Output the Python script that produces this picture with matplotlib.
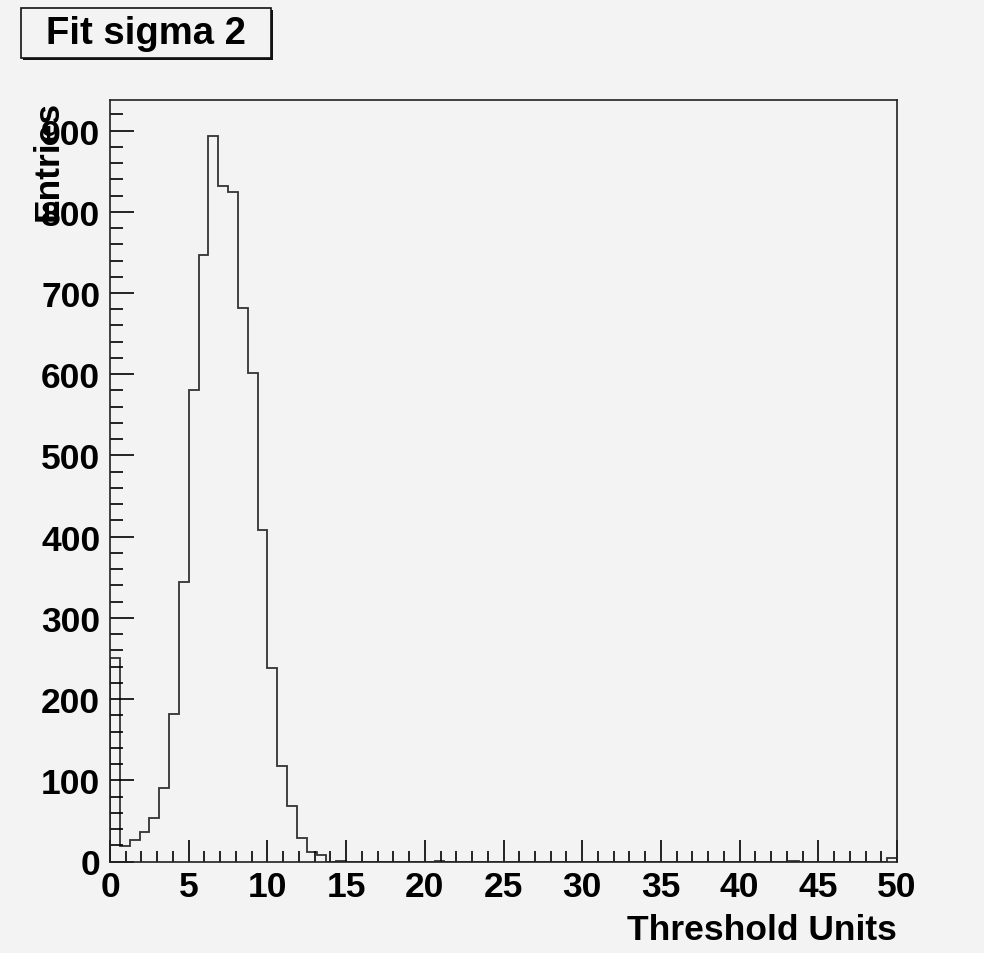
import numpy as np
import matplotlib.pyplot as plt
from matplotlib.patches import Rectangle
from matplotlib.ticker import MultipleLocator

# Гистограмма: 80 бинов на диапазоне 0..50
n_bins = 80
x_min, x_max = 0.0, 50.0
counts = np.zeros(n_bins)
peak_counts = [250, 19, 27, 36, 54, 90, 182, 344, 581, 747, 893, 832,
               824, 682, 601, 408, 238, 118, 68, 29, 12, 8, 0, 1]
counts[:len(peak_counts)] = peak_counts
counts[33] = 1
counts[69] = 1
counts[79] = 4
edges = np.linspace(x_min, x_max, n_bins + 1)

title_text = "Fit sigma 2"
x_title = "Threshold Units"
y_title = "Entries"

bg = "#f3f3f3"
W, H = 984, 954

plt.rcParams['font.family'] = ['Liberation Sans', 'DejaVu Sans']
plt.rcParams['font.weight'] = 'bold'

fig = plt.figure(figsize=(W / 100, H / 100), dpi=100, facecolor=bg)
ax = fig.add_axes([110 / W, (H - 862.5) / H, (897 - 110) / W, (862.5 - 101) / H])
ax.set_facecolor(bg)

ax.stairs(counts, edges, color="#333333", lw=1.3)

ax.set_xlim(x_min, x_max)
ax.set_ylim(0, counts.max() * 1.05)

ax.xaxis.set_major_locator(MultipleLocator(5))
ax.xaxis.set_minor_locator(MultipleLocator(1))
ax.yaxis.set_major_locator(MultipleLocator(100))
ax.yaxis.set_minor_locator(MultipleLocator(20))

ax.tick_params(axis='x', which='major', direction='in', length=16, width=1.2,
               labelsize=25.5, pad=6, top=False)
ax.tick_params(axis='x', which='minor', direction='in', length=8, width=1.2, top=False)
ax.tick_params(axis='y', which='major', direction='in', length=17, width=1.2,
               labelsize=25.5, pad=7, right=False)
ax.tick_params(axis='y', which='minor', direction='in', length=9, width=1.2, right=False)
for lbl in ax.get_xticklabels() + ax.get_yticklabels():
    lbl.set_fontweight('bold')

for s in ax.spines.values():
    s.set_linewidth(1.2)
    s.set_color("#222222")

ax.set_xlabel(x_title, fontsize=25.5, fontweight='bold', ha='right', va='baseline')
ax.xaxis.set_label_coords(1.0, (862.5 - 940) / (862.5 - 101))
ax.set_ylabel(y_title, fontsize=25.5, fontweight='bold', ha='right', va='center')
ax.yaxis.set_label_coords((48.5 - 110) / (897 - 110), 1.0)

# Рамка заголовка с тенью
bx0, by0, bx1, by1 = 21, 9, 271, 59
fig.patches.append(Rectangle(((bx0 + 2) / W, (H - by1 - 2) / H), (bx1 - bx0) / W,
                             (by1 - by0) / H, transform=fig.transFigure,
                             facecolor="#111111", edgecolor="none"))
fig.patches.append(Rectangle((bx0 / W, (H - by1) / H), (bx1 - bx0) / W,
                             (by1 - by0) / H, transform=fig.transFigure,
                             facecolor=bg, edgecolor="#111111", lw=1.2))
fig.text((bx0 + bx1) / 2 / W, (H - (by0 + by1) / 2) / H, title_text,
         fontsize=27.5, fontweight='bold', ha='center', va='center')

fig.savefig("out.png", dpi=100, facecolor=bg)
